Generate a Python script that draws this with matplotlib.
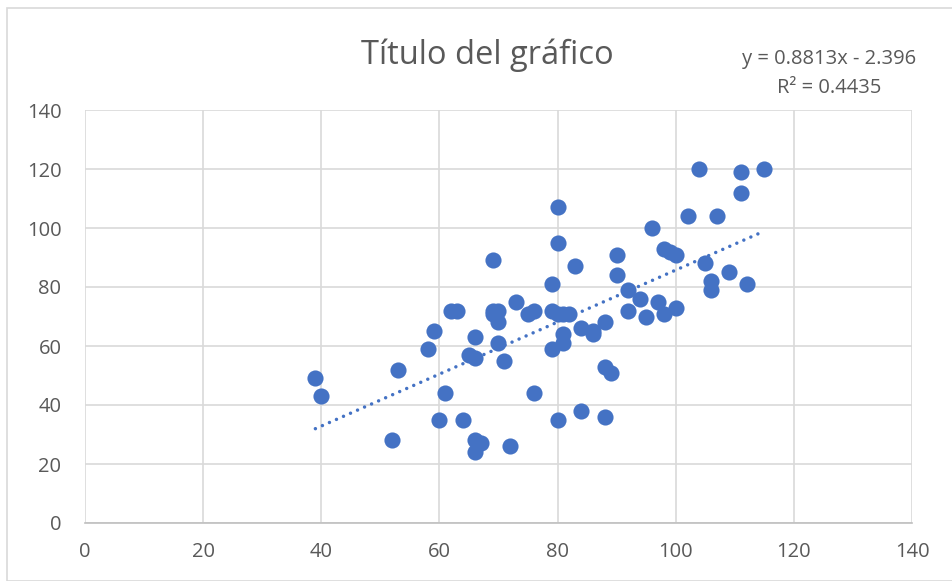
import numpy as np
import matplotlib.pyplot as plt
from matplotlib.patches import Rectangle

# puntos
x = [39, 40, 52, 53, 58, 59, 60, 61, 62, 63, 64, 65, 66, 66, 66, 66, 67, 69, 69, 69,
     70, 70, 70, 71, 72, 73, 75, 76, 76, 79, 79, 79, 80, 80, 80, 80, 81, 81, 81, 82,
     83, 84, 84, 86, 86, 88, 88, 88, 89, 90, 90, 92, 92, 94, 95, 96, 97, 98, 98, 99,
     100, 100, 102, 104, 105, 106, 106, 107, 109, 111, 111, 112, 115]
y = [49, 43, 28, 52, 59, 65, 35, 44, 72, 72, 35, 57, 56, 63, 28, 24, 27, 89, 72, 71,
     72, 68, 61, 55, 26, 75, 71, 72, 44, 81, 72, 59, 107, 95, 71, 35, 71, 64, 61, 71,
     87, 66, 38, 65, 64, 68, 53, 36, 51, 91, 84, 79, 72, 76, 70, 100, 75, 93, 71, 92,
     91, 73, 104, 120, 88, 82, 79, 104, 85, 119, 112, 81, 120]

slope = 0.8813
intercept = -2.396
r2 = 0.4435

blue = '#4472C4'
gris = '#595959'

plt.rcParams['font.family'] = ['Open Sans', 'DejaVu Sans']

fig = plt.figure(figsize=(9.53, 5.81), dpi=100)
ax = fig.add_axes([85/953, 1 - 523/581, (912-85)/953, (523-110)/581])

ax.scatter(x, y, s=135, color=blue, zorder=3, linewidths=0)

# línea de tendencia punteada
xt = np.array([min(x), max(x)])
ax.plot(xt, slope*xt + intercept, color=blue, linestyle=(0, (0.01, 2.2)),
        linewidth=2.5, dash_capstyle='round', zorder=2)

ax.set_xlim(0, 140)
ax.set_ylim(0, 140)
ax.set_xticks(range(0, 141, 20))
ax.set_yticks(range(0, 141, 20))
ax.grid(color='#D9D9D9', linewidth=1.2, zorder=0)
ax.set_axisbelow(True)
for s in ['top', 'right', 'left']:
    ax.spines[s].set_visible(False)
ax.spines['bottom'].set_color('#BFBFBF')
ax.spines['bottom'].set_linewidth(1.2)
ax.tick_params(length=0, labelsize=14.5, colors=gris)
ax.tick_params(axis='y', pad=17)
ax.tick_params(axis='x', pad=14)

fig.text(487/953, 1 - 55/581, 'Título del gráfico', ha='center', va='center',
         fontsize=23.5, color=gris)
fig.text(829/953, 1 - 59/581, 'y = 0.8813x - 2.396', ha='center', va='center',
         fontsize=14.5, color=gris)
fig.text(829/953, 1 - 88/581, 'R² = 0.4435', ha='center', va='center',
         fontsize=14.5, color=gris)

fig.patches.append(Rectangle((7/953, 0), 1, 1 - 8/581, transform=fig.transFigure,
                             fill=False, edgecolor='#D9D9D9', linewidth=1.2))

fig.savefig('out.png', dpi=100)
